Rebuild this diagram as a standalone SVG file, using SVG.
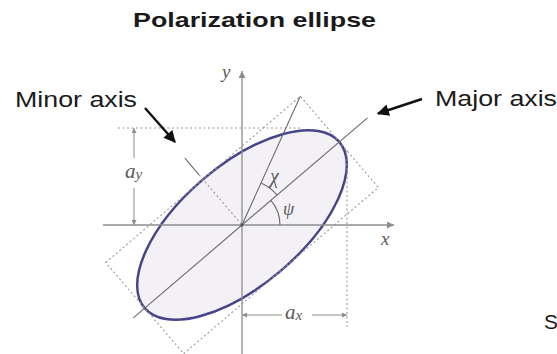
<svg xmlns="http://www.w3.org/2000/svg" width="557" height="354" viewBox="0 0 557 354">
<style>
.axis{stroke:#8c8c8c;stroke-width:1.3;fill:none}
.dot{stroke:#9a9a9a;stroke-width:1.1;stroke-dasharray:2 2.5;fill:none}
.thin{stroke:#6a6a6a;stroke-width:1.1;fill:none}
.dim{stroke:#8c8c8c;stroke-width:1;fill:none}
.ptr{stroke:#111;stroke-width:2.4;fill:none}
.lbl{font-family:"Liberation Sans",Arial,sans-serif;fill:#1a1a1a}
.math{font-family:"Liberation Serif","Times New Roman",serif;font-style:italic;fill:#5a5a5a}
</style>
<defs>
<marker id="ah" viewBox="0 0 10 10" refX="10" refY="5" markerWidth="8" markerHeight="7" markerUnits="userSpaceOnUse" orient="auto"><path d="M0,0 L10,5 L0,10 z" fill="#8c8c8c"/></marker>
<marker id="dh" viewBox="0 0 10 10" refX="10" refY="5" markerWidth="6" markerHeight="5" markerUnits="userSpaceOnUse" orient="auto"><path d="M0,0 L10,5 L0,10 z" fill="#8c8c8c"/></marker>
<marker id="bh" viewBox="0 0 10 10" refX="9" refY="5" markerWidth="15" markerHeight="12" markerUnits="userSpaceOnUse" orient="auto"><path d="M0,0 L10,5 L0,10 z" fill="#111"/></marker>
</defs>
<g id="title"><text class="lbl" x="133" y="27" font-size="21" font-weight="bold" textLength="243" lengthAdjust="spacingAndGlyphs">Polarization ellipse</text></g>
<g id="ellipse"><ellipse cx="242" cy="225" rx="128" ry="60" transform="rotate(-40.5 242 225)" fill="#f3f0f6" stroke="#46458a" stroke-width="2.5"/></g>
<g id="box">
<rect x="-128" y="-60" width="256" height="120" transform="translate(242 225) rotate(-40.5)" class="dot"/>
<line x1="118" y1="128" x2="300" y2="128" class="dot"/>
<line x1="347" y1="150" x2="347" y2="327" class="dot"/>
</g>
<g id="axes">
<line x1="103" y1="225" x2="394" y2="225" class="axis" marker-end="url(#ah)"/>
<line x1="242" y1="354" x2="242" y2="71" class="axis" marker-end="url(#ah)"/>
<text class="math" x="381" y="245" font-size="19">x</text>
<text class="math" x="222" y="78" font-size="19">y</text>
</g>
<g id="major-axis"><line x1="133.3" y1="317.9" x2="367.5" y2="117.8" class="thin"/></g>
<g id="minor-axis">
<line x1="184.9" y1="158.1" x2="199.1" y2="174.8" class="thin" stroke="#8a8a8a"/>
<line x1="199.1" y1="174.8" x2="242" y2="225" class="dot"/>
</g>
<g id="chi-line"><line x1="242" y1="225" x2="300.3" y2="96.3" class="thin"/></g>
<g id="angles">
<path d="M280,225 A38,38 0 0,0 270.9,200.3" class="thin"/>
<path d="M277,195.1 A46,46 0 0,0 261,183.1" class="thin"/>
<text class="math" x="283" y="215" font-size="18" font-style="normal">ψ</text>
<text class="math" x="270" y="183" font-size="20">χ</text>
<circle cx="242" cy="225" r="1.6" fill="#555"/>
</g>
<g id="ay">
<line x1="134" y1="158" x2="134" y2="128" class="dim" marker-end="url(#dh)"/>
<line x1="134" y1="188" x2="134" y2="225" class="dim" marker-end="url(#dh)"/>
<text class="math" x="125" y="178" font-size="21" font-style="normal">a<tspan font-size="15" dy="1">y</tspan></text>
</g>
<g id="ax">
<line x1="282" y1="315" x2="242" y2="315" class="dim" marker-end="url(#dh)"/>
<line x1="312" y1="315" x2="347" y2="315" class="dim" marker-end="url(#dh)"/>
<text class="math" x="285" y="319" font-size="21" font-style="normal">a<tspan font-size="15" dy="1">x</tspan></text>
</g>
<g id="connectors">
<line x1="145" y1="108" x2="175" y2="142" class="ptr" marker-end="url(#bh)"/>
<line x1="422" y1="99" x2="378" y2="113.5" class="ptr" marker-end="url(#bh)"/>
</g>
<g id="minor-label"><text class="lbl" x="15" y="107" font-size="22" textLength="122" lengthAdjust="spacingAndGlyphs">Minor axis</text></g>
<g id="major-label"><text class="lbl" x="435" y="106" font-size="22" textLength="122" lengthAdjust="spacingAndGlyphs">Major axis</text></g>
<g id="s-label"><text class="lbl" x="544" y="329" font-size="21">S</text></g>
</svg>
